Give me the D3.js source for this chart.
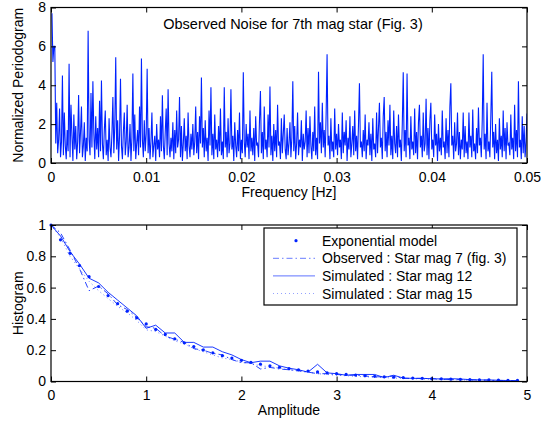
<!DOCTYPE html>
<html>
<head>
<meta charset="utf-8">
<script src="https://cdn.jsdelivr.net/npm/d3@7"></script>
<style>
  body { margin: 0; background: #fff; }
  svg text { font-family: "Liberation Sans", Arial, Helvetica, sans-serif; }
</style>
</head>
<body>
<div id="chart"></div>
<script>
// Periodogram values, one every 0.0001 Hz starting at 0.0001 Hz
var periodogram = [
  7.7, 5.2, 6.0, 6.0, 1.0, 3.1, 0.5, 1.2, 2.8, 0.3, 1.1, 4.5, 0.4, 2.6, 0.9, 0.2, 1.7, 0.6, 5.1, 0.3, 3.0, 1.4, 0.1, 2.5, 0.7,
  1.9, 0.2, 1.1, 3.5, 0.5, 1.6, 2.9, 0.3, 0.9, 2.1, 0.1, 1.3, 0.6, 6.8, 1.2, 0.4, 3.6, 0.8, 4.2, 1.5, 0.2, 2.4, 0.7, 1.8, 0.3,
  3.2, 0.6, 4.25, 1.0, 0.2, 1.7, 2.7, 0.4, 1.2, 0.1, 2.3, 0.8, 0.3, 1.5, 3.4, 0.5, 1.9, 5.44, 0.7, 2.2, 0.1, 1.4, 4.33, 0.9, 0.2,
  1.6, 2.6, 0.4, 1.1, 3.0, 0.3, 0.8, 2.0, 0.1, 1.3, 4.6, 0.6, 2.5, 0.2, 1.0, 1.7, 0.4, 2.9, 0.8, 5.37, 1.2, 0.3, 2.2, 0.6, 1.5,
  4.85, 0.5, 1.8, 0.2, 1.1, 2.6, 0.3, 0.9, 1.4, 0.1, 2.0, 0.7, 1.2, 0.3, 2.4, 0.6, 3.48, 0.9, 0.2, 1.6, 2.8, 0.4, 3.8, 1.0, 0.3,
  1.3, 0.6, 2.1, 0.2, 1.7, 0.5, 2.7, 0.8, 1.2, 3.4, 0.3, 1.9, 0.1, 1.0, 2.3, 0.6, 1.4, 0.2, 2.6, 0.9, 0.3, 1.5, 0.7, 2.0, 0.4,
  1.1, 2.9, 0.5, 1.6, 0.2, 2.4, 1.0, 4.4, 0.8, 1.8, 0.3, 2.2, 0.6, 1.3, 0.1, 2.7, 0.9, 3.9, 0.4, 1.5, 0.2, 2.5, 0.7, 1.2, 0.3,
  1.9, 0.6, 2.8, 0.4, 1.1, 0.2, 3.9, 0.8, 1.6, 0.3, 2.3, 0.5, 1.0, 3.8, 0.7, 1.4, 0.1, 2.1, 0.9, 0.3, 1.7, 0.6, 2.6, 0.2, 1.2,
  0.5, 4.67, 1.1, 0.3, 2.0, 0.8, 1.5, 0.2, 2.7, 0.6, 1.3, 0.4, 1.8, 0.1, 2.4, 0.9, 1.0, 0.3, 2.2, 3.7, 0.5, 1.6, 0.2, 2.9, 0.7,
  1.2, 0.3, 2.5, 0.8, 3.94, 0.4, 1.4, 0.1, 2.0, 0.6, 1.7, 0.3, 3.0, 0.9, 1.1, 0.2, 2.3, 0.5, 1.5, 2.5, 0.7, 0.2, 1.8, 0.4, 1.0,
  2.1, 0.3, 1.3, 4.2, 0.6, 1.9, 0.2, 1.0, 2.6, 0.4, 1.2, 0.8, 2.2, 0.1, 1.5, 0.7, 1.1, 2.7, 0.3, 1.8, 0.5, 2.4, 0.9, 0.2, 1.6,
  0.6, 2.9, 0.4, 1.3, 0.2, 4.7, 1.0, 2.1, 0.5, 3.1, 0.8, 1.7, 0.3, 2.5, 5.6, 0.9, 1.4, 0.2, 2.3, 0.6, 1.1, 0.3, 2.8, 0.7, 1.5,
  0.4, 2.0, 0.8, 1.2, 0.2, 2.6, 0.5, 1.6, 0.9, 2.2, 0.1, 1.3, 0.7, 2.4, 0.3, 1.0, 1.9, 0.4, 2.7, 0.6, 1.4, 0.2, 2.0, 4.1, 0.8,
  1.1, 0.3, 1.7, 0.6, 2.5, 0.2, 1.2, 0.9, 2.1, 0.4, 1.5, 0.1, 2.3, 0.7, 1.0, 0.3, 2.6, 0.5, 1.8, 3.1, 0.8, 1.3, 0.2, 2.4, 3.4,
  0.6, 1.6, 0.3, 2.2, 0.9, 3.0, 0.4, 1.4, 0.2, 2.7, 1.0, 0.5, 1.9, 0.3, 2.5, 0.8, 1.2, 0.1, 2.0, 4.67, 0.6, 1.7, 0.3, 4.6, 0.9,
  1.3, 0.2, 2.4, 0.7, 1.1, 0.4, 2.8, 0.5, 1.6, 0.2, 2.1, 3.0, 0.8, 1.4, 0.3, 2.6, 0.6, 1.0, 3.3, 0.4, 1.8, 0.2, 2.2, 3.1, 0.7,
  1.2, 0.3, 2.5, 0.9, 1.5, 0.1, 2.0, 0.6, 1.3, 0.4, 2.7, 0.8, 1.1, 0.2, 2.3, 0.5, 1.7, 0.3, 2.9, 4.1, 0.9, 1.4, 0.2, 2.1, 0.6,
  1.0, 2.6, 0.4, 1.6, 0.2, 1.2, 0.7, 2.6, 0.3, 1.9, 0.5, 1.1, 0.2, 2.6, 0.8, 1.4, 0.3, 2.75, 0.6, 1.0, 0.2, 1.8, 0.5, 2.85, 0.9,
  1.3, 0.3, 2.2, 5.6, 0.7, 1.5, 0.2, 3.1, 0.6, 1.1, 0.3, 2.4, 4.7, 0.8, 1.6, 0.2, 2.0, 0.5, 1.2, 0.1, 2.3, 0.7, 1.4, 0.3, 2.7,
  0.6, 1.8, 0.2, 2.1, 0.9, 1.0, 0.4, 2.5, 0.7, 1.3, 0.2, 3.0, 0.6, 1.7, 0.3, 4.2, 0.8, 1.2, 0.2, 2.4, 0.5, 1.9, 0.3, 1.1, 2.55
];
var freqStep = 0.0001;

// Histogram amplitudes and the four curves
var amplitude = [0, 0.1, 0.2, 0.3, 0.4, 0.5, 0.6, 0.7, 0.8, 0.9, 1.0, 1.1, 1.2, 1.3, 1.4, 1.5, 1.6, 1.7, 1.8, 1.9,
  2.0, 2.1, 2.2, 2.3, 2.4, 2.5, 2.6, 2.7, 2.8, 2.9, 3.0, 3.1, 3.2, 3.3, 3.4, 3.5, 3.6, 3.7, 3.8, 3.9,
  4.0, 4.1, 4.2, 4.3, 4.4, 4.5, 4.6, 4.7, 4.8, 4.9];
var expModel = [1.0, 0.905, 0.819, 0.741, 0.670, 0.607, 0.549, 0.497, 0.449, 0.407, 0.368, 0.333, 0.301, 0.273, 0.247, 0.223, 0.202, 0.183, 0.165, 0.150,
  0.135, 0.122, 0.111, 0.100, 0.091, 0.082, 0.074, 0.067, 0.061, 0.055, 0.050, 0.045, 0.041, 0.037, 0.033, 0.030, 0.027, 0.025, 0.022, 0.020,
  0.018, 0.017, 0.015, 0.014, 0.012, 0.011, 0.010, 0.009, 0.008, 0.007];
var observed7 = [1.0, 0.95, 0.84, 0.72, 0.58, 0.61, 0.56, 0.49, 0.46, 0.41, 0.35, 0.34, 0.29, 0.27, 0.25, 0.21, 0.20, 0.18, 0.17, 0.14,
  0.12, 0.12, 0.08, 0.09, 0.08, 0.075, 0.07, 0.06, 0.05, 0.05, 0.045, 0.04, 0.04, 0.035, 0.03, 0.03, 0.035, 0.02, 0.02, 0.02,
  0.018, 0.015, 0.012, 0.012, 0.01, 0.01, 0.008, 0.006, 0.006, 0.005];
var simulated12 = [1.0, 0.93, 0.83, 0.75, 0.66, 0.63, 0.57, 0.52, 0.47, 0.42, 0.34, 0.36, 0.31, 0.31, 0.25, 0.25, 0.22, 0.22, 0.19, 0.17,
  0.14, 0.12, 0.13, 0.13, 0.10, 0.085, 0.075, 0.06, 0.11, 0.055, 0.05, 0.04, 0.045, 0.045, 0.045, 0.025, 0.04, 0.022, 0.02, 0.02,
  0.018, 0.016, 0.018, 0.016, 0.012, 0.01, 0.01, 0.008, 0.006, 0.004];
var simulated15 = [1.0, 0.92, 0.80, 0.72, 0.64, 0.58, 0.53, 0.48, 0.44, 0.39, 0.33, 0.32, 0.29, 0.26, 0.24, 0.21, 0.19, 0.17, 0.15, 0.14,
  0.125, 0.115, 0.10, 0.095, 0.085, 0.075, 0.065, 0.06, 0.05, 0.045, 0.04, 0.037, 0.033, 0.03, 0.027, 0.025, 0.022, 0.02, 0.018, 0.016,
  0.014, 0.013, 0.012, 0.01, 0.009, 0.008, 0.007, 0.006, 0.005, 0.005];

var legendLabels = ["Exponential model", "Observed : Star mag 7 (fig. 3)", "Simulated : Star mag 12", "Simulated : Star mag 15"];

const W = 541, H = 423;
const blue = "#0022ff";
const fontSize = 14;

const svg = d3.select("#chart").append("svg")
  .attr("width", W).attr("height", H);

// draws the box, inside ticks on all four sides and labels
function drawAxes(g, x, y, w, h, xTicks, yTicks, xFmt, yFmt) {
  const tick = 5;
  g.append("g")
    .attr("transform", `translate(0,${h})`)
    .call(d3.axisBottom(x).tickValues(xTicks).tickFormat(xFmt).tickSizeInner(-tick).tickSizeOuter(0).tickPadding(9));
  g.append("g")
    .call(d3.axisTop(x).tickValues(xTicks).tickFormat("").tickSizeInner(-tick).tickSizeOuter(0));
  g.append("g")
    .call(d3.axisLeft(y).tickValues(yTicks).tickFormat(yFmt).tickSizeInner(-tick).tickSizeOuter(0).tickPadding(5));
  g.append("g")
    .attr("transform", `translate(${w},0)`)
    .call(d3.axisRight(y).tickValues(yTicks).tickFormat("").tickSizeInner(-tick).tickSizeOuter(0));
  g.selectAll(".domain").remove();
  g.selectAll(".tick line").attr("stroke", "#000").attr("stroke-width", 1);
  g.selectAll(".tick text").attr("font-size", fontSize).attr("fill", "#000")
    .style("font-family", '"Liberation Sans", Arial, sans-serif');
  g.append("rect")
    .attr("width", w).attr("height", h)
    .attr("fill", "none").attr("stroke", "#000").attr("stroke-width", 1.2);
}

// ---------- top: periodogram ----------
const topBox = { left: 51, top: 7.5, width: 476, height: 155.5 };
const gTop = svg.append("g").attr("transform", `translate(${topBox.left},${topBox.top})`);

const xF = d3.scaleLinear().domain([0, 0.05]).range([0, topBox.width]);
const yP = d3.scaleLinear().domain([0, 8]).range([topBox.height, 0]);

gTop.append("clipPath").attr("id", "clipTop")
  .append("rect").attr("width", topBox.width).attr("height", topBox.height);

const pLine = d3.line()
  .x((d, i) => xF((i + 1) * freqStep))
  .y(d => yP(d));

gTop.append("path")
  .datum(periodogram)
  .attr("clip-path", "url(#clipTop)")
  .attr("d", pLine)
  .attr("fill", "none")
  .attr("stroke", blue)
  .attr("stroke-width", 1.1);

drawAxes(gTop, xF, yP, topBox.width, topBox.height,
  [0, 0.01, 0.02, 0.03, 0.04, 0.05], [0, 2, 4, 6, 8],
  d => d === 0 ? "0" : d3.format(".2f")(d), d3.format("d"));

gTop.append("text")
  .attr("x", 242).attr("y", 21)
  .attr("text-anchor", "middle").attr("font-size", 14.5)
  .text("Observed Noise for 7th mag star (Fig. 3)");

svg.append("text")
  .attr("x", topBox.left + topBox.width / 2).attr("y", 197)
  .attr("text-anchor", "middle").attr("font-size", fontSize)
  .text("Frequency [Hz]");

svg.append("text")
  .attr("transform", `translate(23,${topBox.top + topBox.height / 2}) rotate(-90)`)
  .attr("text-anchor", "middle").attr("font-size", fontSize)
  .text("Normalized Periodogram");

// ---------- bottom: histogram ----------
const botBox = { left: 51, top: 225, width: 476, height: 156.5 };
const gBot = svg.append("g").attr("transform", `translate(${botBox.left},${botBox.top})`);

const xA = d3.scaleLinear().domain([0, 5]).range([0, botBox.width]);
const yH = d3.scaleLinear().domain([0, 1]).range([botBox.height, 0]);

const hLine = d3.line()
  .x((d, i) => xA(amplitude[i]))
  .y(d => yH(d));

const styles = [
  { dash: "6,3,1.5,3", width: 1, opacity: 0.85 },
  { dash: null, width: 0.9, opacity: 1 },
  { dash: "1,3", width: 1, opacity: 0.6 }
];

[observed7, simulated12, simulated15].forEach(function (series, k) {
  gBot.append("path")
    .datum(series)
    .attr("d", hLine)
    .attr("fill", "none")
    .attr("stroke", blue)
    .attr("stroke-width", styles[k].width)
    .attr("stroke-opacity", styles[k].opacity)
    .attr("stroke-dasharray", styles[k].dash);
});

gBot.selectAll(".expdot")
  .data(expModel)
  .join("circle")
  .attr("class", "expdot")
  .attr("cx", (d, i) => xA(amplitude[i]))
  .attr("cy", d => yH(d))
  .attr("r", 1.6)
  .attr("fill", blue);

drawAxes(gBot, xA, yH, botBox.width, botBox.height,
  [0, 1, 2, 3, 4, 5], [0, 0.2, 0.4, 0.6, 0.8, 1],
  d3.format("d"), d => d === 0 || d === 1 ? String(d) : d3.format(".1f")(d));

// legend
const leg = { x: 213, y: 3, w: 253, h: 77 };
const gLeg = gBot.append("g").attr("transform", `translate(${leg.x},${leg.y})`);
gLeg.append("rect")
  .attr("width", leg.w).attr("height", leg.h)
  .attr("fill", "#fff").attr("stroke", "#000").attr("stroke-width", 1.2);

legendLabels.forEach(function (label, i) {
  const cy = 12.7 + i * 17.6;
  if (i === 0) {
    gLeg.append("circle").attr("cx", 32).attr("cy", cy).attr("r", 1.6).attr("fill", blue);
  } else {
    const s = styles[i - 1];
    gLeg.append("line")
      .attr("x1", 9).attr("x2", 51).attr("y1", cy).attr("y2", cy)
      .attr("stroke", blue).attr("stroke-width", s.width)
      .attr("stroke-opacity", s.opacity * 0.7)
      .attr("stroke-dasharray", s.dash);
  }
  gLeg.append("text")
    .attr("x", 58).attr("y", cy + 5)
    .attr("font-size", fontSize)
    .text(label);
});

svg.append("text")
  .attr("x", botBox.left + botBox.width / 2).attr("y", 415)
  .attr("text-anchor", "middle").attr("font-size", fontSize)
  .text("Amplitude");

svg.append("text")
  .attr("transform", `translate(23,${botBox.top + botBox.height / 2}) rotate(-90)`)
  .attr("text-anchor", "middle").attr("font-size", fontSize)
  .text("Histogram");
</script>
</body>
</html>
